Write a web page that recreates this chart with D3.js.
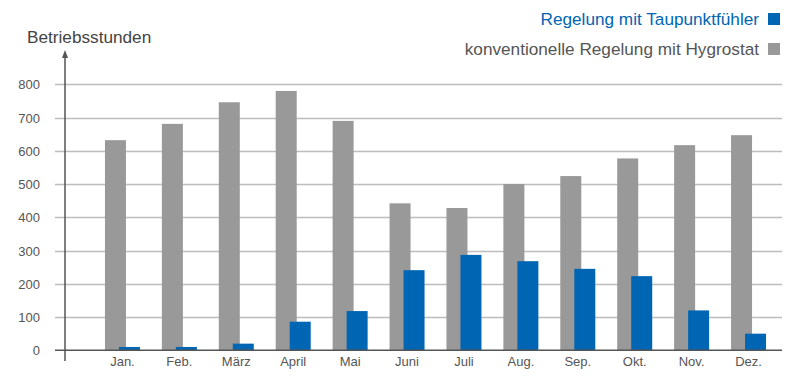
<!DOCTYPE html>
<html>
<head>
<meta charset="utf-8">
<script src="https://cdn.jsdelivr.net/npm/d3@7"></script>
<style>
  body { margin: 0; background: #fff; }
  svg { display: block; font-family: 'Liberation Sans', Arial, sans-serif; }
</style>
</head>
<body>
<div id="root"></div>
<script>
const width = 800;
const height = 385;

const months = ['Jan.', 'Feb.', 'März', 'April', 'Mai', 'Juni', 'Juli', 'Aug.', 'Sep.', 'Okt.', 'Nov.', 'Dez.'];
const hygrostat = [632, 681, 746, 780, 690, 442, 428, 500, 524, 577, 617, 647];
const taupunkt = [10, 10, 20, 86, 118, 241, 287, 268, 245, 223, 120, 50];
const yTicks = [0, 100, 200, 300, 400, 500, 600, 700, 800];

const GRAY = '#999999';
const BLUE = '#0066b3';
const TEXT = '#555555';

const x = d3.scaleBand()
    .domain(months)
    .range([94, 777])
    .padding(0);

const y = d3.scaleLinear()
    .domain([0, 800])
    .range([350.3, 84.3]);

// bar offsets relative to the band centre
const barW = 21;
const offGray = -17.5;
const offBlue = -3.5;

const svg = d3.select('#root')
    .append('svg')
    .attr('width', width)
    .attr('height', height);

// gridlines
svg.append('g')
    .selectAll('line')
    .data(yTicks.filter(d => d > 0))
    .join('line')
    .attr('x1', 55)
    .attr('x2', 782)
    .attr('y1', d => Math.round(y(d)) + 0.5)
    .attr('y2', d => Math.round(y(d)) + 0.5)
    .attr('stroke', '#bdbdbd')
    .attr('stroke-width', 1.5);

// tick labels
svg.append('g')
    .selectAll('text')
    .data(yTicks)
    .join('text')
    .attr('x', 40)
    .attr('y', d => y(d) + 5)
    .attr('text-anchor', 'end')
    .attr('fill', TEXT)
    .attr('font-size', 13)
    .text(d => d);

const cx = m => x(m) + x.bandwidth() / 2;

// gray bars
svg.append('g')
    .selectAll('rect')
    .data(months)
    .join('rect')
    .attr('x', (m) => cx(m) + offGray)
    .attr('y', (m, i) => y(hygrostat[i]))
    .attr('width', barW)
    .attr('height', (m, i) => y(0) - y(hygrostat[i]))
    .attr('fill', GRAY);

// blue bars
svg.append('g')
    .selectAll('rect')
    .data(months)
    .join('rect')
    .attr('x', (m) => cx(m) + offBlue)
    .attr('y', (m, i) => y(taupunkt[i]))
    .attr('width', barW)
    .attr('height', (m, i) => y(0) - y(taupunkt[i]))
    .attr('fill', BLUE);

// baseline
svg.append('line')
    .attr('x1', 55)
    .attr('x2', 782)
    .attr('y1', y(0))
    .attr('y2', y(0))
    .attr('stroke', TEXT)
    .attr('stroke-width', 1.5);

// y axis with arrow
svg.append('line')
    .attr('x1', 65)
    .attr('x2', 65)
    .attr('y1', 56)
    .attr('y2', 361)
    .attr('stroke', TEXT)
    .attr('stroke-width', 1.5);
svg.append('path')
    .attr('d', 'M65,50 L62,58 L68,58 Z')
    .attr('fill', TEXT);

// month labels
svg.append('g')
    .selectAll('text')
    .data(months)
    .join('text')
    .attr('x', m => cx(m))
    .attr('y', 366)
    .attr('text-anchor', 'middle')
    .attr('fill', TEXT)
    .attr('font-size', 13)
    .text(d => d);

// axis title
svg.append('text')
    .attr('x', 27)
    .attr('y', 43)
    .attr('fill', '#444')
    .attr('font-size', 17.2)
    .text('Betriebsstunden');

// legend
const legend = [
    {label: 'Regelung mit Taupunktfühler', color: BLUE, text: BLUE, y: 25},
    {label: 'konventionelle Regelung mit Hygrostat', color: GRAY, text: TEXT, y: 55}
];
const lg = svg.append('g')
    .selectAll('g')
    .data(legend)
    .join('g');
lg.append('text')
    .attr('x', 759)
    .attr('y', d => d.y)
    .attr('text-anchor', 'end')
    .attr('fill', d => d.text)
    .attr('font-size', 17.2)
    .text(d => d.label);
lg.append('rect')
    .attr('x', 768)
    .attr('y', d => d.y - 12)
    .attr('width', 12)
    .attr('height', 12)
    .attr('fill', d => d.color);
</script>
</body>
</html>
